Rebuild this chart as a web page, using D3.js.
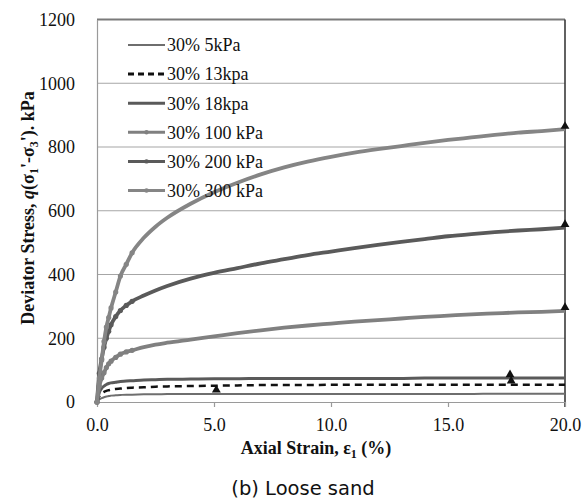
<!DOCTYPE html>
<html>
<head>
<meta charset="utf-8">
<script src="https://cdn.jsdelivr.net/npm/d3@7"></script>
<style>
  html, body { margin: 0; padding: 0; background: #fff; }
  svg { display: block; }
  .serif { font-family: "Liberation Serif", "Times New Roman", Times, "DejaVu Serif", serif; }
</style>
</head>
<body>
<svg id="chart" width="587" height="500"></svg>
<script>
// ---------- data ----------
const strain = [0, 0.1, 0.2, 0.3, 0.4, 0.5, 0.6, 0.8, 1.0, 1.25, 1.5, 2.0, 2.5, 3.0, 4.0, 5.0, 6.0, 7.0, 8.0, 9.0, 10.0, 11.0, 12.0, 13.0, 14.0, 15.0, 16.0, 17.0, 18.0, 19.0, 20.0];
const q5   = [0, 8, 12, 15, 17, 19, 20, 21, 22, 23, 23, 24, 24, 25, 25, 25, 25, 25, 25, 25, 25, 25, 25, 25, 25, 25, 25, 26, 26, 26, 26];
const q13  = [0, 18, 27, 32, 35, 37, 39, 41, 42, 44, 45, 46, 48, 49, 50, 51, 52, 53, 53, 53, 54, 54, 54, 54, 54, 54, 54, 54, 54, 54, 54];
const q18  = [0, 30, 43, 50, 55, 58, 60, 62, 64, 66, 67, 69, 70, 71, 72, 73, 73, 74, 74, 74, 74, 74, 74, 74, 75, 75, 75, 75, 75, 75, 75];
const q100 = [0, 50, 75, 92, 108, 120, 128, 140, 150, 157, 162, 172, 180, 186, 196, 206, 216, 225, 233, 240, 246, 252, 257, 262, 267, 271, 275, 278, 281, 283, 286];
const q200 = [0, 90, 135, 172, 200, 222, 242, 268, 287, 303, 316, 334, 350, 364, 387, 405, 420, 435, 448, 461, 472, 483, 493, 502, 511, 520, 527, 533, 538, 542, 547];
const q300 = [0, 75, 132, 190, 235, 265, 295, 345, 395, 432, 468, 515, 550, 578, 622, 658, 688, 714, 736, 754, 769, 782, 793, 803, 813, 822, 830, 838, 845, 850, 856];
const seriesNames = ["30% 5kPa", "30% 13kpa", "30% 18kpa", "30% 100 kPa", "30% 200 kPa", "30% 300 kPa"];
const failStrain = [5.1, 17.65, 17.7, 20.0, 20.0, 20.0];
const failStress = [38, 86, 66, 865, 557, 297];
const xTicks = [0, 5, 10, 15, 20];
const yTicks = [0, 200, 400, 600, 800, 1000, 1200];

// ---------- styles ----------
const styles = [
  { color: "#6e6e6e", width: 2, dash: null, marker: false },
  { color: "#111111", width: 2.5, dash: "7,5", marker: false },
  { color: "#5a5a5a", width: 3, dash: null, marker: false },
  { color: "#808080", width: 3.8, dash: null, marker: true },
  { color: "#5a5a5a", width: 3.8, dash: null, marker: true },
  { color: "#858585", width: 3.8, dash: null, marker: true }
];
const allQ = [q5, q13, q18, q100, q200, q300];

const svg = d3.select("#chart");
const margin = { left: 97, right: 22, top: 19.5, bottom: 98 };
const W = 587, H = 500;
const x = d3.scaleLinear().domain([0, 20]).range([margin.left, W - margin.right]);
const y = d3.scaleLinear().domain([0, 1200]).range([H - margin.bottom, margin.top]);

// gridlines
svg.append("g").selectAll("line").data(yTicks.slice(1, -1)).join("line")
  .attr("x1", x(0)).attr("x2", x(20))
  .attr("y1", d => y(d)).attr("y2", d => y(d))
  .attr("stroke", "#a6a6a6").attr("stroke-width", 1.2);

// top border
svg.append("line").attr("x1", x(0)).attr("x2", x(20)).attr("y1", y(1200)).attr("y2", y(1200))
  .attr("stroke", "#7a7a7a").attr("stroke-width", 2);
// right border
svg.append("line").attr("x1", x(20)).attr("x2", x(20)).attr("y1", y(1200)).attr("y2", y(0) + 5)
  .attr("stroke", "#3a3a3a").attr("stroke-width", 1.6);

// x axis
const xAxis = d3.axisBottom(x).tickValues(xTicks).tickFormat(d3.format(".1f")).tickSize(5).tickSizeOuter(0);
const gx = svg.append("g").attr("transform", `translate(0,${y(0)})`).call(xAxis);
gx.attr("font-family", null).attr("class", "serif");
gx.select(".domain").attr("stroke", "#9a9a9a").attr("stroke-width", 1.2);
gx.selectAll(".tick line").attr("stroke", "#9a9a9a").attr("stroke-width", 1.2);
gx.selectAll(".tick text").attr("font-size", 18).attr("fill", "#111").attr("dy", "1.15em");

// y axis
const yAxis = d3.axisLeft(y).tickValues(yTicks).tickFormat(d3.format("d")).tickSize(0).tickPadding(22);
const gy = svg.append("g").attr("transform", `translate(${x(0)},0)`).call(yAxis);
gy.attr("font-family", null).attr("class", "serif");
gy.select(".domain").attr("stroke", "#9a9a9a").attr("stroke-width", 1.2);
gy.selectAll(".tick text").attr("font-size", 18).attr("fill", "#111");

// series
const line = d3.line().x(d => x(d[0])).y(d => y(d[1])).curve(d3.curveMonotoneX);
const plot = svg.append("g");
allQ.forEach((qs, i) => {
  const pts = strain.map((s, j) => [s, qs[j]]);
  const st = styles[i];
  plot.append("path").datum(pts).attr("d", line)
    .attr("fill", "none").attr("stroke", st.color).attr("stroke-width", st.width)
    .attr("stroke-dasharray", st.dash);
  if (st.marker) {
    plot.append("g").selectAll("circle").data(pts.filter(p => p[0] <= 1.5)).join("circle")
      .attr("cx", d => x(d[0])).attr("cy", d => y(d[1])).attr("r", 2.6)
      .attr("fill", st.color);
  }
});

// failure triangles
const tri = d3.symbol().type(d3.symbolTriangle).size(34);
svg.append("g").selectAll("path").data(failStrain.map((s, i) => [s, failStress[i]])).join("path")
  .attr("d", tri)
  .attr("transform", d => `translate(${x(d[0])},${y(d[1])})`)
  .attr("fill", "#111");

// legend
const leg = svg.append("g").attr("class", "serif");
const legY0 = 45, legStep = 29.1;
seriesNames.forEach((name, i) => {
  const st = styles[i];
  const yy = legY0 + i * legStep;
  leg.append("line").attr("x1", 128).attr("x2", 165).attr("y1", yy).attr("y2", yy)
    .attr("stroke", st.color).attr("stroke-width", i === 0 ? 2 : 3)
    .attr("stroke-dasharray", st.dash ? "6,4" : null);
  if (st.marker) {
    leg.append("circle").attr("cx", 146.5).attr("cy", yy).attr("r", 2.2).attr("fill", st.color);
  }
  leg.append("text").attr("x", 167).attr("y", yy).attr("dy", "0.35em")
    .attr("font-size", 18).attr("fill", "#111").text(name);
});

// x title
const xt = svg.append("text").attr("class", "serif").attr("x", 316).attr("y", 448).attr("dy", "0.35em")
  .attr("text-anchor", "middle").attr("font-size", 18)
  .attr("font-weight", "bold").attr("fill", "#111");
xt.append("tspan").text("Axial Strain, ε");
xt.append("tspan").attr("font-size", 12).attr("dy", 4).text("1");
xt.append("tspan").attr("dy", -4).text(" (%)");

// y title
const yt = svg.append("text").attr("class", "serif").attr("transform", "translate(28,208) rotate(-90)").attr("dy", "0.35em")
  .attr("text-anchor", "middle").attr("font-size", 18)
  .attr("font-weight", "bold").attr("fill", "#111");
yt.append("tspan").text("Deviator Stress, ");
yt.append("tspan").attr("font-style", "italic").text("q");
yt.append("tspan").text("(σ");
yt.append("tspan").attr("font-size", 12).attr("dy", 4).text("1");
yt.append("tspan").attr("dy", -4).text("'-σ");
yt.append("tspan").attr("font-size", 12).attr("dy", 4).text("3");
yt.append("tspan").attr("dy", -4).text("'). kPa");

// caption
svg.append("text").attr("x", 303).attr("y", 488).attr("dy", "0.35em")
  .attr("text-anchor", "middle").attr("font-family", "'DejaVu Sans', 'Noto Sans', sans-serif")
  .attr("font-size", 19.5).attr("fill", "#111").text("(b) Loose sand");
</script>
</body>
</html>
